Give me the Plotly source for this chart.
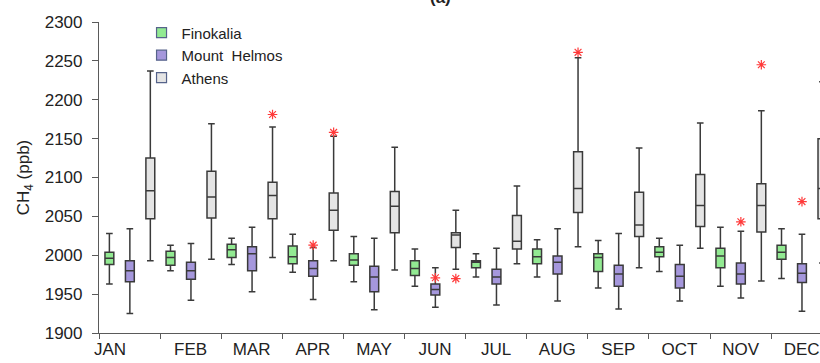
import plotly.graph_objects as go

months = ["JAN", "FEB", "MAR", "APR", "MAY", "JUN", "JUL", "AUG", "SEP", "OCT", "NOV", "DEC"]

# Finokalia
fin_low  = [1963, 1980, 1988, 1978, 1966, 1960, 1972, 1972, 1958, 1979, 1960, 1970]
fin_q1   = [1988, 1987, 1997, 1989, 1987, 1974, 1984, 1989, 1979, 1998, 1984, 1995]
fin_med  = [1996, 1997, 2007, 1998, 1994, 1983, 1991, 1998, 1997, 2004, 1999, 2004]
fin_q3   = [2004, 2005, 2014, 2012, 2002, 1993, 1993, 2008, 2002, 2011, 2009, 2013]
fin_high = [2028, 2013, 2022, 2027, 2024, 2008, 2002, 2020, 2019, 2022, 2036, 2034]

# Mount Helmos
hel_low  = [1925, 1942, 1953, 1943, 1930, 1933, 1936, 1941, 1931, 1941, 1945, 1928]
hel_q1   = [1966, 1969, 1980, 1973, 1953, 1949, 1963, 1976, 1960, 1958, 1963, 1965]
hel_med  = [1980, 1980, 2002, 1983, 1972, 1956, 1972, 1991, 1976, 1973, 1976, 1977]
hel_q3   = [1993, 1991, 2011, 1993, 1986, 1963, 1982, 1999, 1987, 1988, 1990, 1989]
hel_high = [2034, 2015, 2036, 2010, 2022, 1984, 2009, 2034, 2028, 2013, 2031, 2027]

# Athens
ath_low  = [1993, 1995, 1997, 1993, 1981, 1982, 1989, 2011, 1984, 2009, 1967, 1990]
ath_q1   = [2047, 2048, 2047, 2032, 2029, 2010, 2008, 2055, 2024, 2037, 2030, 2047]
ath_med  = [2083, 2075, 2077, 2058, 2063, 2026, 2018, 2086, 2039, 2064, 2064, 2086]
ath_q3   = [2125, 2108, 2094, 2080, 2082, 2029, 2051, 2133, 2081, 2104, 2092, 2150]
ath_high = [2237, 2169, 2165, 2153, 2139, 2058, 2089, 2254, 2138, 2170, 2186, 2223]

# Outliers (month index, site, value)
out_month = [2, 3, 3, 5, 5, 7, 10, 10, 11]
out_site  = ["ath", "hel", "ath", "hel", "ath", "ath", "hel", "ath", "hel"]
out_value = [2181, 2013, 2158, 1971, 1970, 2261, 2043, 2245, 2069]

site_offset = {"fin": 0.17, "hel": 0.505, "ath": 0.84}
label_pos = [0.18] + [i + 0.5 for i in range(1, 12)]

BOX_LINE = "#3a3a3a"
AXIS = "#5a5a5a"
FONT = "Liberation Sans, Arial, sans-serif"

sites = [
    ("Finokalia", "fin", "#92ea92", fin_low, fin_q1, fin_med, fin_q3, fin_high),
    ("Mount  Helmos", "hel", "#a597dc", hel_low, hel_q1, hel_med, hel_q3, hel_high),
    ("Athens", "ath", "#e4e4e4", ath_low, ath_q1, ath_med, ath_q3, ath_high),
]

fig = go.Figure()
for name, key, color, lo, q1, med, q3, hi in sites:
    xs = [i + site_offset[key] for i in range(len(months))]
    fig.add_trace(go.Box(
        x=xs, q1=q1, median=med, q3=q3, lowerfence=lo, upperfence=hi,
        width=0.145, whiskerwidth=0.75, fillcolor=color,
        line=dict(color=BOX_LINE, width=1.5), showlegend=False, name=name,
        hoverinfo="skip",
    ))

for name, key, color, *_ in sites:
    fig.add_trace(go.Scatter(
        x=[None], y=[None], mode="markers", name=name,
        marker=dict(symbol="square", size=10, color=color,
                    line=dict(color="#56638a", width=1.2)),
    ))

fig.add_trace(go.Scatter(
    x=[m + site_offset[s] for m, s in zip(out_month, out_site)], y=out_value,
    mode="markers", showlegend=False,
    marker=dict(symbol="asterisk-open", size=8, color="#ff3a3a",
                line=dict(color="#ff3a3a", width=1.2)),
))

fig.add_annotation(
    x=0.473, y=1.08, xref="paper", yref="paper", text="<b>(a)</b>",
    showarrow=False, font=dict(family=FONT, size=17, color="#222"),
    yanchor="middle",
)

fig.update_layout(
    width=820, height=363,
    margin=dict(l=99, r=0, t=22, b=30),
    paper_bgcolor="white", plot_bgcolor="white",
    font=dict(family=FONT, color="#222"),
    legend=dict(x=0.059, y=1.018, xanchor="left", yanchor="top",
                font=dict(family=FONT, size=15, color="#222"),
                bgcolor="rgba(0,0,0,0)", tracegroupgap=0),
    showlegend=True,
)
fig.update_xaxes(
    range=[0, 11.80], showgrid=False, zeroline=False,
    showline=True, linecolor=AXIS, linewidth=1.2,
    tickmode="array", tickvals=label_pos, ticktext=months, ticks="",
    tickfont=dict(family=FONT, size=17, color="#222"),
    minor=dict(tickmode="linear", tick0=0, dtick=1, ticks="outside",
               ticklen=5, tickcolor=AXIS, tickwidth=1.2, showgrid=False),
)
fig.update_yaxes(
    range=[1900, 2300], dtick=50, showgrid=False, zeroline=False,
    showline=True, linecolor=AXIS, linewidth=1.2,
    ticks="outside", ticklen=6, tickcolor=AXIS, tickwidth=1.2,
    ticklabelstandoff=6,
    tickfont=dict(family=FONT, size=17, color="#222"),
    title=dict(text="CH<sub>4</sub> (ppb)", font=dict(family=FONT, size=17, color="#222"), standoff=10),
)

fig.write_html("out.html")
